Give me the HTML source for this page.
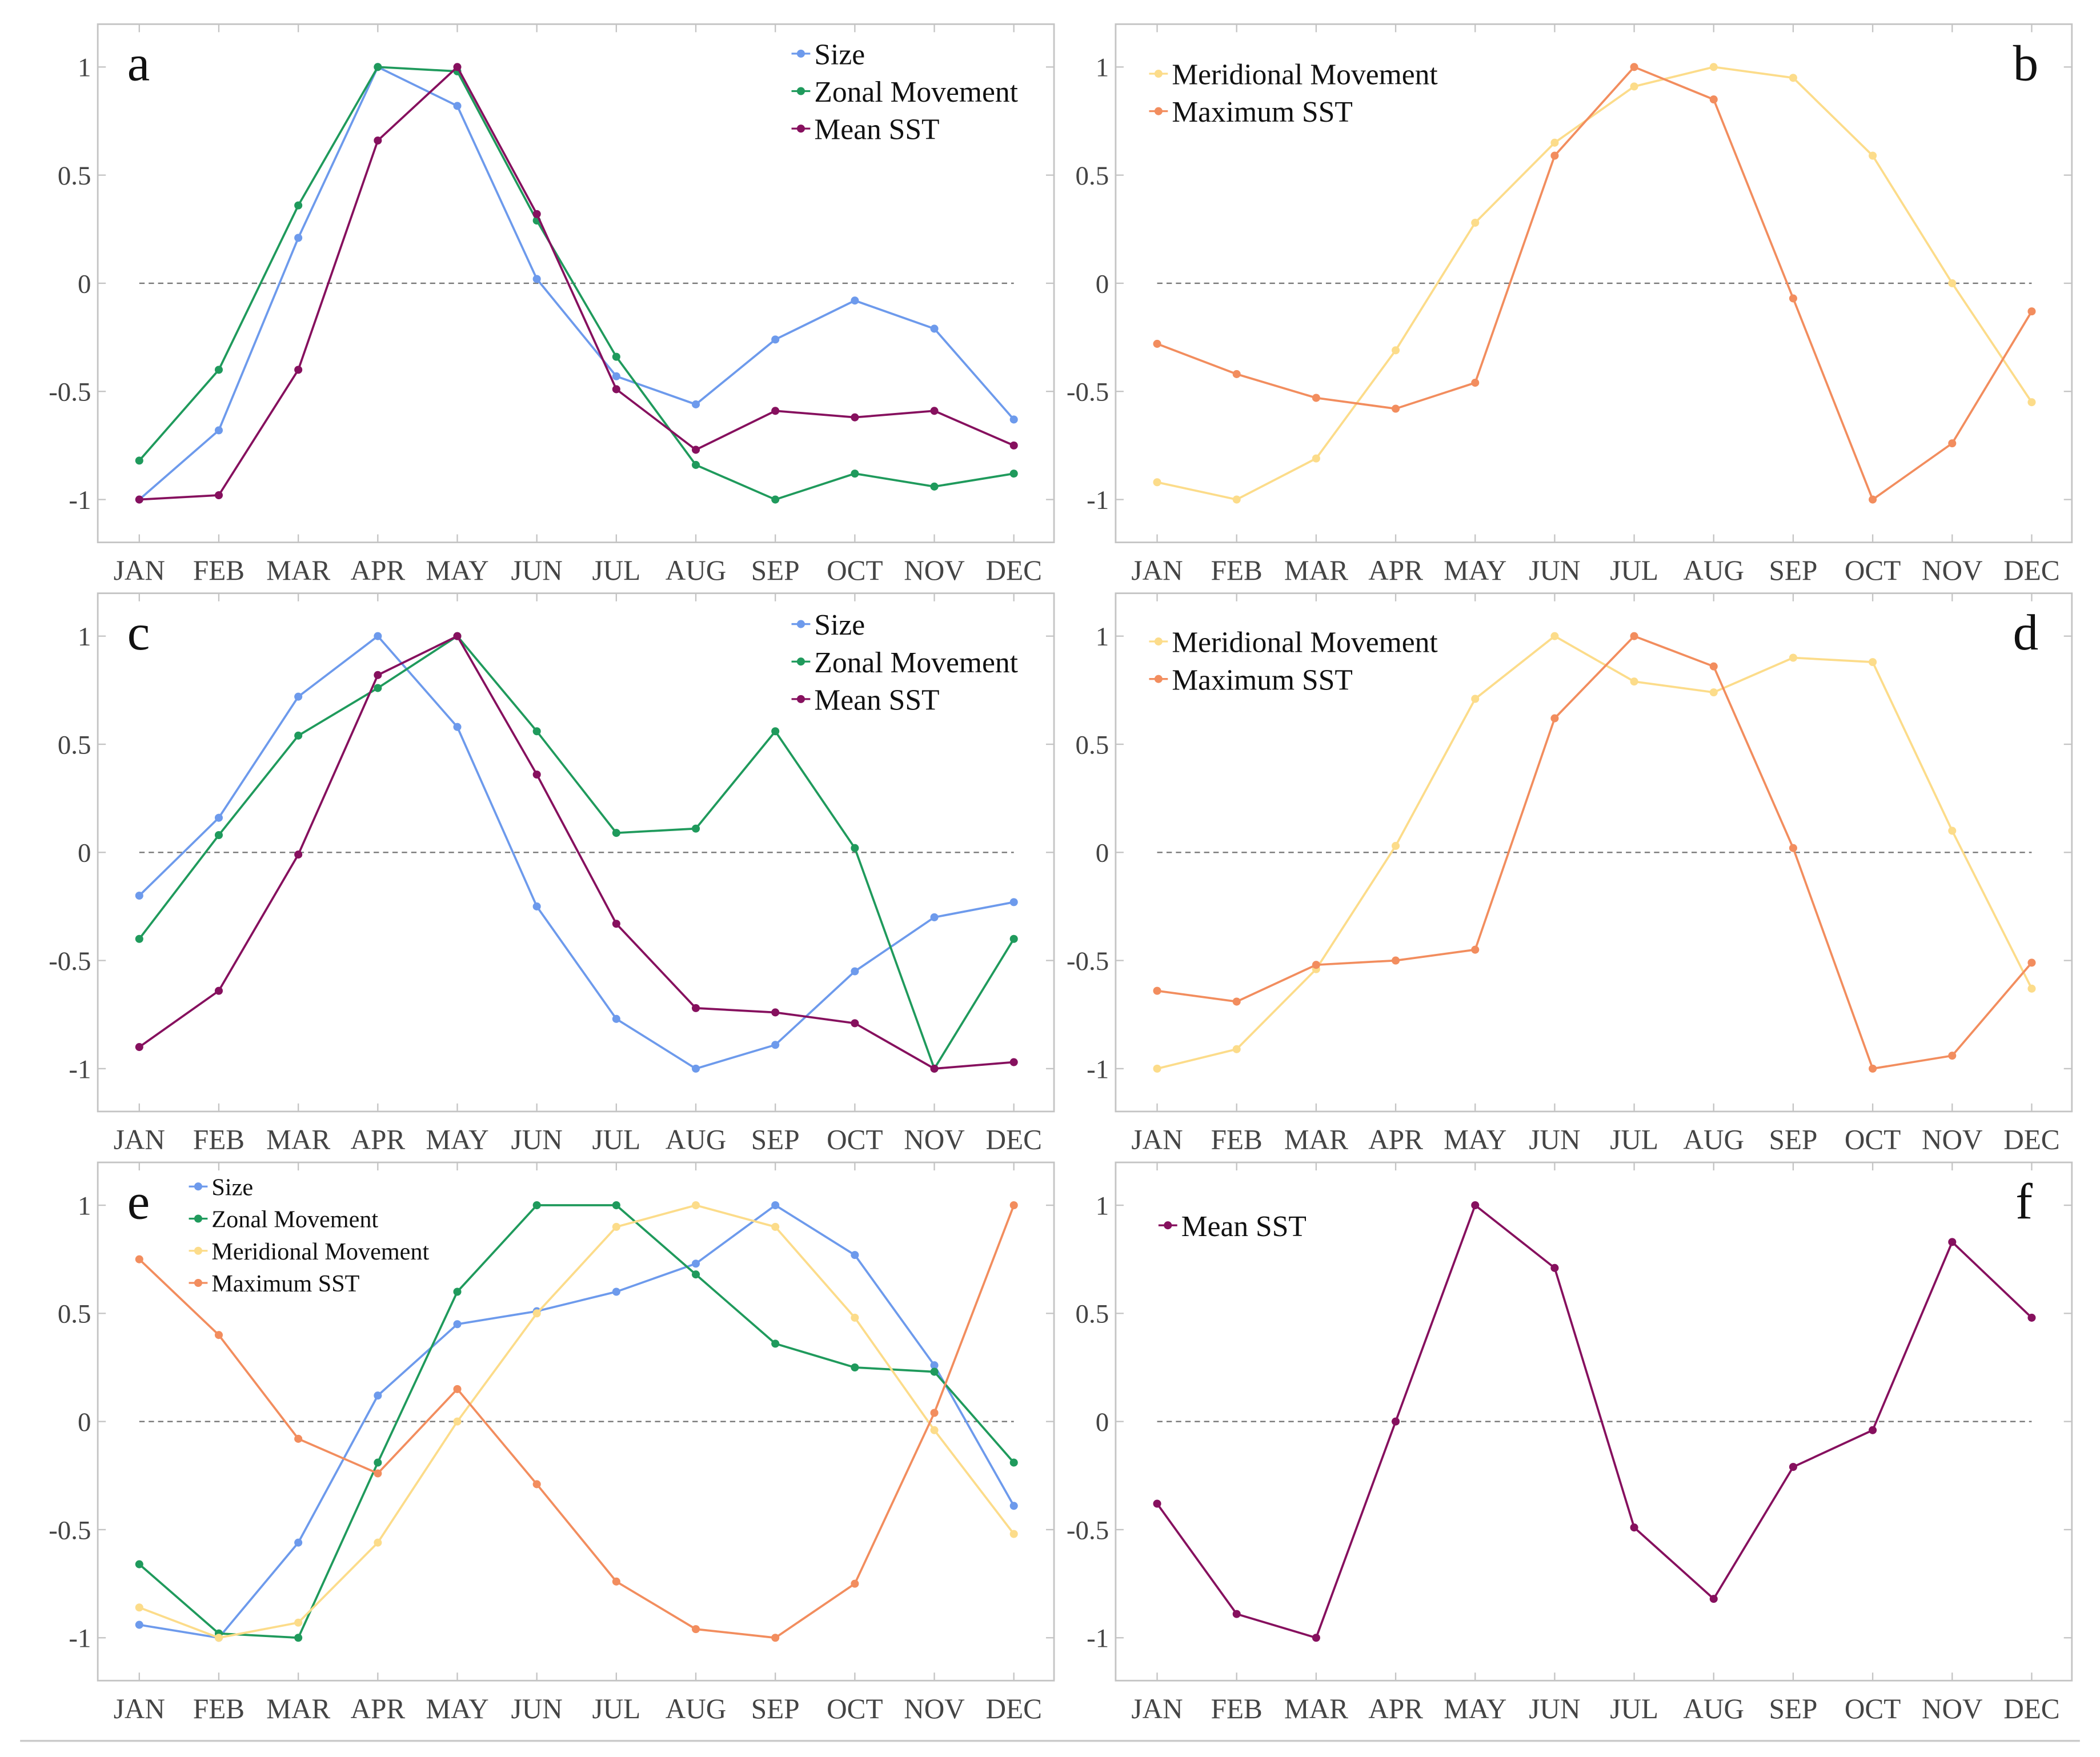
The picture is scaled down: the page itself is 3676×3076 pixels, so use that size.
<!DOCTYPE html>
<html><head><meta charset="utf-8"><style>
html,body{margin:0;padding:0;background:#fff;}
svg{display:block;}
svg text{font-family:"Liberation Serif",serif;}
</style></head><body>
<svg id="chart" width="3676" height="3076" viewBox="0 0 1568 1312" xmlns="http://www.w3.org/2000/svg" font-family="Liberation Serif, serif">
<rect width="1568" height="1312" fill="#fff"/>
<line x1="15" y1="1300" x2="1553" y2="1300" stroke="#ccc" stroke-width="1.5"/>
</svg>
<script>
const months = ["JAN","FEB","MAR","APR","MAY","JUN","JUL","AUG","SEP","OCT","NOV","DEC"];
const yTicks = [-1,-0.5,0,0.5,1];
const yTickLabels = ["-1","-0.5","0","0.5","1"];
const aSize = [-1,-0.68,0.21,1,0.82,0.02,-0.43,-0.56,-0.26,-0.08,-0.21,-0.63];
const aZonal = [-0.82,-0.4,0.36,1,0.98,0.29,-0.34,-0.84,-1,-0.88,-0.94,-0.88];
const aMean = [-1,-0.98,-0.4,0.66,1,0.32,-0.49,-0.77,-0.59,-0.62,-0.59,-0.75];
const bMerid = [-0.92,-1,-0.81,-0.31,0.28,0.65,0.91,1,0.95,0.59,0,-0.55];
const bMax = [-0.28,-0.42,-0.53,-0.58,-0.46,0.59,1,0.85,-0.07,-1,-0.74,-0.13];
const cSize = [-0.2,0.16,0.72,1,0.58,-0.25,-0.77,-1,-0.89,-0.55,-0.3,-0.23];
const cZonal = [-0.4,0.08,0.54,0.76,1,0.56,0.09,0.11,0.56,0.02,-1,-0.4];
const cMean = [-0.9,-0.64,-0.01,0.82,1,0.36,-0.33,-0.72,-0.74,-0.79,-1,-0.97];
const dMerid = [-1,-0.91,-0.54,0.03,0.71,1,0.79,0.74,0.9,0.88,0.1,-0.63];
const dMax = [-0.64,-0.69,-0.52,-0.5,-0.45,0.62,1,0.86,0.02,-1,-0.94,-0.51];
const eSize = [-0.94,-1,-0.56,0.12,0.45,0.51,0.6,0.73,1,0.77,0.26,-0.39];
const eZonal = [-0.66,-0.98,-1,-0.19,0.6,1,1,0.68,0.36,0.25,0.23,-0.19];
const eMerid = [-0.86,-1,-0.93,-0.56,0,0.5,0.9,1,0.9,0.48,-0.04,-0.52];
const eMax = [0.75,0.4,-0.08,-0.24,0.15,-0.29,-0.74,-0.96,-1,-0.75,0.04,1];
const fMean = [-0.38,-0.89,-1,0,1,0.71,-0.49,-0.82,-0.21,-0.04,0.83,0.48];

const C = {size:"#6d9aec", zonal:"#1f9a5c", mean:"#86105e", merid:"#fcdc8a", max:"#f28d5e"};
const NS = "http://www.w3.org/2000/svg";
const FF = "Liberation Serif, serif";
const svg = document.getElementById("chart");
function mk(tag, attrs, parent){const e=document.createElementNS(NS,tag);for(const k in attrs)e.setAttribute(k,attrs[k]);(parent||svg).appendChild(e);return e;}

const panels = [
 {id:"a",left:73,top:18,lx:598,ly:40,fs:22,letterX:95,
  series:[["Size",aSize,C.size],["Zonal Movement",aZonal,C.zonal],["Mean SST",aMean,C.mean]]},
 {id:"b",left:833,top:18,lx:865,ly:55,fs:22,letterX:1503,
  series:[["Meridional Movement",bMerid,C.merid],["Maximum SST",bMax,C.max]]},
 {id:"c",left:73,top:443,lx:598,ly:466,fs:22,letterX:95,
  series:[["Size",cSize,C.size],["Zonal Movement",cZonal,C.zonal],["Mean SST",cMean,C.mean]]},
 {id:"d",left:833,top:443,lx:865,ly:479,fs:22,letterX:1503,
  series:[["Meridional Movement",dMerid,C.merid],["Maximum SST",dMax,C.max]]},
 {id:"e",left:73,top:868,lx:148,ly:886,fs:18,lstep:24,letterX:95,
  series:[["Size",eSize,C.size],["Zonal Movement",eZonal,C.zonal],["Meridional Movement",eMerid,C.merid],["Maximum SST",eMax,C.max]]},
 {id:"f",left:833,top:868,lx:872,ly:915,fs:22,letterX:1505,
  series:[["Mean SST",fMean,C.mean]]}
];

panels.forEach(p=>{
  const g = mk("g",{});
  
  
  const W=714, H=387;
  const x0 = p.left+31, step=(653)/11;
  const xs = i=> x0+i*step;
  const ys = v=> p.top+193.5 - v*161.5;
  const frame = mk("rect",{x:p.left,y:p.top,width:W,height:H,fill:"none",stroke:"#c4c4c4","stroke-width":1.2},g);
  
  
  months.forEach((m,i)=>{
    mk("line",{x1:xs(i),y1:p.top,x2:xs(i),y2:p.top+6,stroke:"#c4c4c4"},g);
    mk("line",{x1:xs(i),y1:p.top+H,x2:xs(i),y2:p.top+H-6,stroke:"#c4c4c4"},g);
    const t = mk("text",{x:xs(i),y:p.top+H+28,"text-anchor":"middle","font-size":21,fill:"#444","font-family":FF},g);
    t.textContent=m;
    
    
  });
  yTicks.forEach((v,i)=>{
    mk("line",{x1:p.left,y1:ys(v),x2:p.left+6,y2:ys(v),stroke:"#c4c4c4"},g);
    mk("line",{x1:p.left+W,y1:ys(v),x2:p.left+W-6,y2:ys(v),stroke:"#c4c4c4"},g);
    const t = mk("text",{x:p.left-5,y:ys(v)+7,"text-anchor":"end","font-size":20,fill:"#444","font-family":FF},g);
    t.textContent=yTickLabels[i];
    
    
  });
  const zl = mk("line",{x1:xs(0),y1:ys(0),x2:xs(11),y2:ys(0),stroke:"#777","stroke-dasharray":"4,3","stroke-width":1},g);
  
  
  p.series.forEach(([name,vals,col],si)=>{
    const sg = mk("g",{},g);
    
    
    const pl = mk("polyline",{points:vals.map((v,i)=>xs(i)+","+ys(v)).join(" "),fill:"none",stroke:col,"stroke-width":1.6},sg);
    
    
    vals.forEach((v,i)=>{
      const c = mk("circle",{cx:xs(i),cy:ys(v),r:3,fill:col},sg);
      
      
    });
    const ly = p.ly + si*(p.lstep||28);
    const lg = mk("g",{},g);
    
    
    mk("line",{x1:p.lx-7,y1:ly,x2:p.lx+7,y2:ly,stroke:col,"stroke-width":1.4},lg);
    mk("circle",{cx:p.lx,cy:ly,r:3,fill:col},lg);
    const lt = mk("text",{x:p.lx+10,y:ly+p.fs*0.36,"font-size":p.fs,fill:"#111","font-family":FF},lg);
    lt.textContent=name;
  });
  const L = mk("text",{x:p.letterX,y:p.top+42,"font-size":38,fill:"#111","font-family":FF},g);
  L.textContent=p.id;
  
  
});
</script>
</body></html>
